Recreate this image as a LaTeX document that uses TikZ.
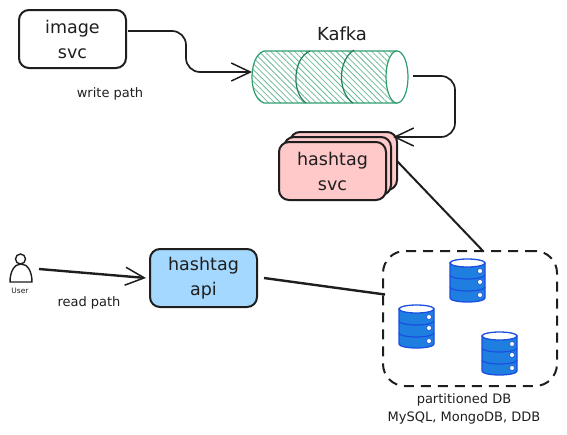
\documentclass[tikz,border=0pt]{standalone}
\usepackage{fontspec}
\setmainfont{DejaVu Sans}
\usetikzlibrary{arrows.meta,patterns.meta}
\definecolor{inkblack}{HTML}{1E1E1E}
\definecolor{kafkagreen}{HTML}{2F9E6E}
\definecolor{svcpink}{HTML}{FFC9C9}
\definecolor{apiblue}{HTML}{A5D8FF}
\definecolor{dbfill}{HTML}{1F7FE0}
\definecolor{dbline}{HTML}{1A4FE0}
\tikzset{
  svcbox/.style={draw=inkblack, line width=2pt, rounded corners=10pt, minimum width=107pt, minimum height=58pt, inner sep=0pt, outer sep=0pt, align=center, font=\fontsize{17.5}{25}\selectfont, text=inkblack},
  note/.style={font=\fontsize{13}{18}\selectfont, text=inkblack, align=center, inner sep=0pt},
  flow/.style={draw=inkblack, line width=1.7pt, -{Straight Barb[length=19pt,width=18pt,line width=1.5pt]}},
  link/.style={draw=inkblack, line width=2pt},
  dbicon/.pic={
    \draw[fill=dbfill, draw=dbline, line width=1.3pt] (0,4)--(0,39) arc[start angle=180, end angle=360, x radius=17.5pt, y radius=4pt]--(35,4)--cycle;
    \foreach \bandy in {16,28} {
      \draw[draw=dbline, line width=1.2pt] (0,\bandy) arc[start angle=180, end angle=360, x radius=17.5pt, y radius=4pt];
    }
    \draw[fill=white, draw=dbline, line width=1.3pt] (17.5,4) ellipse[x radius=17.5pt, y radius=4pt];
    \foreach \doty in {12,23,36} {
      \draw[fill=white, draw=dbline, line width=.6pt] (30,\doty) circle[radius=2.5pt];
    }
  }
}
\begin{document}
\begin{tikzpicture}[x=1pt,y=-1pt]
\useasboundingbox (0,0) rectangle (567,434);
% write path
\node (image) [svcbox] at (72.5,39) {image\\svc};
\node (writepath) [note] at (110,94) {write path};
\node (kafkalabel) [font=\fontsize{18}{20}\selectfont, text=inkblack, inner sep=0pt] at (342,34) {Kafka};
\node (kafka) [minimum width=156pt, minimum height=52pt, inner sep=0pt, outer sep=0pt] at (330,77) {};
\draw[kafkagreen, line width=1.2pt, pattern={Lines[angle=-45,distance=4.2pt,line width=.8pt]}, pattern color=kafkagreen!70]
  (264,51) -- (397,51) -- (397,103) -- (264,103) .. controls (248,98) and (248,56) .. (264,51) -- cycle;
\draw[kafkagreen, line width=1.2pt, fill=white] (397,77) ellipse[x radius=11pt, y radius=26pt];
\draw[kafkagreen!80!black, line width=1.2pt] (310,51) .. controls (293,58) and (291,92) .. (306,103);
\draw[kafkagreen!80!black, line width=1.2pt] (354,50) .. controls (338,60) and (337,92) .. (353,103);
\node (svcback) [svcbox, fill=svcpink] at (343.5,161) {};
\node (svcmid) [svcbox, fill=svcpink] at (337.5,166) {};
\node (svc) [svcbox, fill=svcpink] at (332.5,171) {hashtag\\svc};
\draw[flow, rounded corners=14pt] ([xshift=5pt,yshift=1pt]kafka.east) -- (455,76) -- (455,137) -- ([xshift=-4pt,yshift=-5pt]svcback.north east);
\draw[flow, rounded corners=14pt] ([xshift=2pt,yshift=8pt]image.east) -- (186,31) -- (186,72) -- ([yshift=5pt]kafka.west);
% read path
\node (userlabel) [font=\fontsize{7.5}{8}\selectfont, text=inkblack, inner sep=0pt] at (20,291) {User};
\coordinate (user) at (39,269);
\draw[inkblack, line width=1.4pt, fill=white] (10,282) .. controls (10,272) and (14,264) .. (21,264) .. controls (28,264) and (32,272) .. (32,282) -- cycle;
\draw[inkblack, line width=1.4pt, fill=white] (20.5,259) circle[radius=5pt];
\node (readpath) [note] at (89,303) {read path};
\node (api) [svcbox, fill=apiblue] at (203.5,278) {hashtag\\api};
\draw[flow, line width=2.4pt] (user) -- ([xshift=-4pt]api.west);
% partitioned db
\node (dbgroup) [draw=inkblack, line width=2pt, dash pattern=on 10pt off 7pt, rounded corners=22pt, minimum width=174pt, minimum height=135pt, outer sep=0pt] at (470,318.5) {};
\draw[link] (svcback.east) -- ([xshift=13pt]dbgroup.north);
\draw[link, line width=2.4pt] ([xshift=7pt]api.east) -- ([xshift=2pt,yshift=24pt]dbgroup.west);
\pic at (450,259) {dbicon};
\pic at (399,305) {dbicon};
\pic at (482,332) {dbicon};
\node (dblabel) [note] at (464,408.5) {partitioned DB\\MySQL, MongoDB, DDB};
\end{tikzpicture}
\end{document}
